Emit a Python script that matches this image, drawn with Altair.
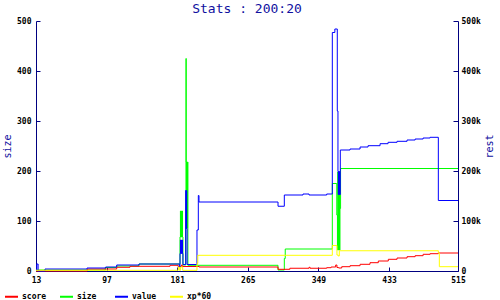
import altair as alt
import pandas as pd

# ---- data ----
series_names = ["score", "size", "value", "xp*60"]
series_colors = ["#ff0000", "#00ff00", "#0000ff", "#ffff00"]

x_ticks = [13, 97, 181, 265, 349, 433, 515]
size_ticks = [0, 100, 200, 300, 400, 500]
rest_ticks = [0, 100000, 200000, 300000, 400000, 500000]

# size (left axis)
size_x = [13, 95.4, 109, 135.5, 184.3, 184.8, 185.3, 185.8, 186.3, 186.8, 187.3, 187.8,
          191.1, 191.4, 191.7, 192.1, 192.5, 192.9, 193.3, 193.7, 300.9, 308.4, 309.5,
          365.5, 370.8, 371.6, 372.0, 372.4, 372.8, 373.2, 373.6, 374.0, 374.6, 375.3, 515]
size_v = [2, 7, 10, 14, 68, 120, 68, 120, 68, 120, 68, 12,
          86, 425, 218, 86, 218, 86, 218, 11.4, 2, 25, 44,
          175, 112, 42, 198, 42, 198, 42, 198, 42, 125, 205, 205]

# score (right axis, thousands)
score_x = [13, 74, 109, 124.8, 172.4, 182, 186, 187, 207, 300.9, 315, 337.8, 339,
           358.8, 364, 369.5, 371, 373, 376.7, 386.6, 398.5, 410.3, 420.2, 432.1,
           442.5, 454.4, 464, 473.5, 481.8, 491.6, 515]
score_v = [0, 4, 7.4, 9.4, 11.4, 9, 12, 9, 8, 3.4, 5.5, 7.4, 5.5,
           6.6, 8, 12, 7, 6, 8.6, 10.6, 13.4, 16.6, 20, 23.4,
           26, 28.6, 30.6, 33.4, 34.6, 36, 36]

# value (right axis, thousands)
value_x = [13, 14, 15.5, 23.7, 73.7, 95.9, 109, 135.5, 183.5, 184.3, 184.8, 185.3, 185.8,
           186.3, 186.8, 187.3, 187.8, 191.1, 191.5, 191.9, 192.3, 192.7, 204.5, 206.1,
           206.9, 300.9, 308.4, 330.6, 337.8, 358.8, 365.5, 368.5, 371.4, 372.2, 372.6,
           373.0, 373.4, 373.8, 374.2, 375.0, 386.6, 398.5, 408.0, 422.3, 431.8, 442.5,
           454.4, 464.0, 473.5, 481.8, 491.6, 515]
value_v = [2, 14, 0, 4, 6, 8, 12, 14, 8, 35, 62, 35, 62,
           35, 62, 35, 13, 161, 85, 161, 85, 13, 82, 151,
           138, 129.5, 152, 154, 152, 154, 477, 484, 320, 199, 153,
           199, 153, 199, 153, 242, 244, 248, 250.6, 254.6, 257.4, 259.4,
           262, 264, 266, 267.4, 141, 141]

# xp*60 (right axis, thousands)
xp_x = [13, 182.3, 183.5, 185, 187.5, 204.5, 205.5, 365.5, 371, 372.5, 373.8, 491.6, 492.8, 515]
xp_v = [1.4, 8, 1.4, 8, 1.4, 15, 31.4, 51, 32, 30, 40.5, 36, 8.6, 8.6]

# ---- tables ----
df_size = pd.DataFrame({"x": size_x, "v": size_v, "series": "size"})
df_rest = pd.concat([
    pd.DataFrame({"x": score_x, "v": [a * 1000 for a in score_v], "series": "score"}),
    pd.DataFrame({"x": value_x, "v": [a * 1000 for a in value_v], "series": "value"}),
    pd.DataFrame({"x": xp_x, "v": [a * 1000 for a in xp_v], "series": "xp*60"}),
], ignore_index=True)

FONT = "DejaVu Sans Mono"
NAVY = "#000080"
TITLE_C = "#1010a0"

xscale = alt.Scale(domain=[13, 515], nice=False, zero=False)
ys_size = alt.Scale(domain=[0, 500], nice=False)
ys_rest = alt.Scale(domain=[0, 500000], nice=False)

color = alt.Color(
    "series:N",
    scale=alt.Scale(domain=series_names, range=series_colors),
    legend=alt.Legend(
        title=None, orient="none", legendX=-32, legendY=268, direction="horizontal",
        columns=4, gridAlign="all", symbolType="stroke", symbolSize=169,
        symbolStrokeWidth=2, labelFont=FONT, labelFontSize=8, labelFontWeight="bold",
        labelColor="black", labelOffset=3, columnPadding=9, padding=0,
    ),
)

lab = dict(labelFont=FONT, labelFontSize=8, labelFontWeight="bold", labelColor="black")

size_layer = alt.Chart(df_size).mark_line(interpolate="step-after", strokeWidth=1).encode(
    x=alt.X("x:Q", scale=xscale, axis=alt.Axis(
        orient="bottom", values=x_ticks, title=None, ticks=False, tickSize=0, labelPadding=5,
        domainColor=NAVY, grid=False, labelFlush=False, **lab)),
    y=alt.Y("v:Q", scale=ys_size, axis=alt.Axis(
        orient="left", values=size_ticks, title="size", ticks=False, tickSize=0,
        labelPadding=5, domainColor=NAVY, grid=False, titleFont=FONT, titleFontSize=10,
        titleFontWeight="normal", titleColor=TITLE_C, titlePadding=4, **lab)),
    color=color,
)

rest_layer = alt.Chart(df_rest).mark_line(interpolate="step-after", strokeWidth=1).encode(
    x=alt.X("x:Q", scale=xscale, axis=None),
    y=alt.Y("v:Q", scale=ys_rest, axis=alt.Axis(
        orient="right", values=rest_ticks, title="rest", ticks=False, tickSize=0,
        labelPadding=3, domainColor=NAVY, grid=False, titleFont=FONT, titleFontSize=10,
        titleFontWeight="normal", titleColor=TITLE_C, titlePadding=14, titleAngle=270,
        labelExpr="datum.value == 0 ? '0' : format(datum.value / 1000, 'd') + 'k'", **lab)),
    color=color,
)

tick_left = alt.Chart(df_size).mark_line(opacity=0).encode(
    x=alt.X("x:Q", scale=xscale, axis=alt.Axis(
        orient="bottom", values=x_ticks, offset=-4, tickSize=4, labels=False, domain=False,
        title=None, tickColor=NAVY, grid=False)),
    y=alt.Y("v:Q", scale=ys_size, axis=alt.Axis(
        orient="left", values=size_ticks, offset=-4, tickSize=4, labels=False,
        domain=False, title=None, tickColor=NAVY, grid=False)),
)

tick_right = alt.Chart(df_rest).mark_line(opacity=0).encode(
    x=alt.X("x:Q", scale=xscale, axis=None),
    y=alt.Y("v:Q", scale=ys_rest, axis=alt.Axis(
        orient="right", values=rest_ticks, offset=-5, tickSize=5, labels=False,
        domain=False, title=None, tickColor=NAVY, grid=False)),
)

chart = alt.layer(size_layer, rest_layer, tick_left, tick_right).resolve_scale(
    x="independent", y="independent"
).properties(
    width=422, height=250,
    title=alt.Title("Stats : 200:20", font=FONT, fontSize=13, fontWeight="normal",
                    color=TITLE_C, anchor="middle", offset=1),
    autosize=alt.AutoSizeParams(type="none"),
    padding={"left": 36, "top": 21, "right": 42, "bottom": 29},
    background="white",
).configure_view(stroke=None)

chart.save("out.html", embed_options={"renderer": "svg", "actions": False})
